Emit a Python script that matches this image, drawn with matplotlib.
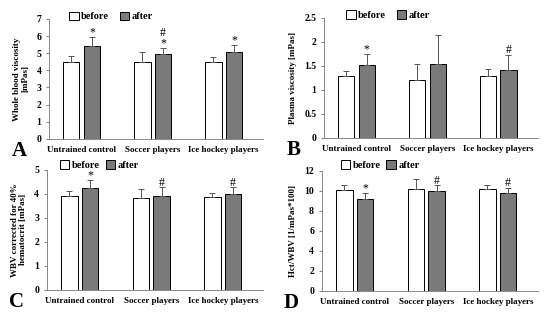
import matplotlib
matplotlib.use('Agg')
import matplotlib.pyplot as plt
import numpy as np
from matplotlib.patches import Patch

groups = ['Untrained control', 'Soccer players', 'Ice hockey players']

# panel A: whole blood viscosity
a_before = [4.5, 4.5, 4.5]
a_after = [5.42, 4.93, 5.05]
a_before_err = [0.35, 0.56, 0.3]
a_after_err = [0.5, 0.4, 0.42]
a_marks = ['*', '#\n*', '*']

# panel B: plasma viscosity
b_before = [1.3, 1.2, 1.28]
b_after = [1.52, 1.53, 1.42]
b_before_err = [0.1, 0.33, 0.16]
b_after_err = [0.22, 0.62, 0.31]
b_marks = ['*', '', '#']

# panel C: WBV corrected for 40% hematocrit
c_before = [3.92, 3.83, 3.86]
c_after = [4.24, 3.92, 3.98]
c_before_err = [0.2, 0.39, 0.19]
c_after_err = [0.33, 0.36, 0.29]
c_marks = ['*', '#', '#']

# panel D: Hct/WBV
d_before = [10.05, 10.2, 10.15]
d_after = [9.15, 9.95, 9.8]
d_before_err = [0.5, 0.95, 0.45]
d_after_err = [0.65, 0.6, 0.5]
d_marks = ['*', '#', '#']

plt.rcParams['font.family'] = ['Liberation Serif', 'DejaVu Serif']
plt.rcParams['font.weight'] = 'bold'

fig = plt.figure(figsize=(5.5, 3.2), dpi=100)

# letter, axes rect, data..., ymax, yticks, ylabel, legend anchor
panels = [
    ('A', [0.089, 0.566, 0.39, 0.375], a_before, a_after, a_before_err, a_after_err, a_marks,
     7, np.arange(0, 8, 1), 'Whole blood viscosity\n[mPas]', (0.07, 1.02), 1.0),
    ('B', [0.589, 0.569, 0.389, 0.375], b_before, b_after, b_before_err, b_after_err, b_marks,
     2.5, np.arange(0, 2.6, 0.5), 'Plasma viscosity [mPas]', (0.08, 1.025), 1.0),
    ('C', [0.085, 0.094, 0.393, 0.375], c_before, c_after, c_before_err, c_after_err, c_marks,
     5, np.arange(0, 6, 1), 'WBV corrected for 40%\nhematocrit [mPas]', (0.035, 1.04), 0.6),
    ('D', [0.585, 0.091, 0.393, 0.375], d_before, d_after, d_before_err, d_after_err, d_marks,
     12, np.arange(0, 13, 2), 'Hct/WBV [1/mPas*100]', (0.065, 1.05), 0.5),
]

x = np.arange(len(groups))
w = 0.23
off = 0.145
after_color = '#7a7a7a'

for letter, pos, before, after, berr, aerr, marks, ymax, yticks, ylabel, lpos, cspace in panels:
    ax = fig.add_axes(pos)
    ax.bar(x - off, before, w, color='white', edgecolor='black', linewidth=0.7)
    ax.bar(x + off, after, w, color=after_color, edgecolor='black', linewidth=0.7)
    ax.errorbar(x - off, before, yerr=[np.zeros(3), berr], fmt='none',
                ecolor='#555555', elinewidth=0.7, capsize=2, capthick=0.7)
    ax.errorbar(x + off, after, yerr=[np.zeros(3), aerr], fmt='none',
                ecolor='#555555', elinewidth=0.7, capsize=2, capthick=0.7)
    for xi, v, e, m in zip(x + off, after, aerr, marks):
        if m:
            ax.annotate(m, (xi, v + e), xytext=(0, -1), textcoords='offset points',
                        ha='center', va='bottom', fontsize=8.5, linespacing=0.8,
                        fontweight='normal')
    ax.set_xlim(-0.46, 2.56)
    ax.set_ylim(0, ymax)
    ax.set_yticks(yticks)
    ax.set_yticklabels([('%g' % t) for t in yticks])
    ax.set_xticks(x)
    ax.set_xticklabels(groups)
    ax.tick_params(axis='x', length=0, labelsize=6.5, pad=5)
    ax.tick_params(axis='y', length=2.5, labelsize=7, pad=3, color='#888888')
    for s in ['top', 'right']:
        ax.spines[s].set_visible(False)
    for s in ['left', 'bottom']:
        ax.spines[s].set_color('#888888')
        ax.spines[s].set_linewidth(0.7)
    ax.set_ylabel(ylabel, fontsize=6.5, fontweight='bold', labelpad=5, linespacing=1.0)
    handles = [Patch(facecolor='white', edgecolor='black', linewidth=0.7, label='before'),
               Patch(facecolor=after_color, edgecolor='black', linewidth=0.7, label='after')]
    ax.legend(handles=handles, ncol=2, loc='center left', bbox_to_anchor=lpos,
              frameon=False, fontsize=7.5, handlelength=0.9, handleheight=0.9,
              handletextpad=0.25, columnspacing=cspace, borderpad=0)
    ax.text(-0.175, -0.1, letter, transform=ax.transAxes, fontsize=15,
            ha='left', va='center')

fig.savefig('out.png', dpi=100)
